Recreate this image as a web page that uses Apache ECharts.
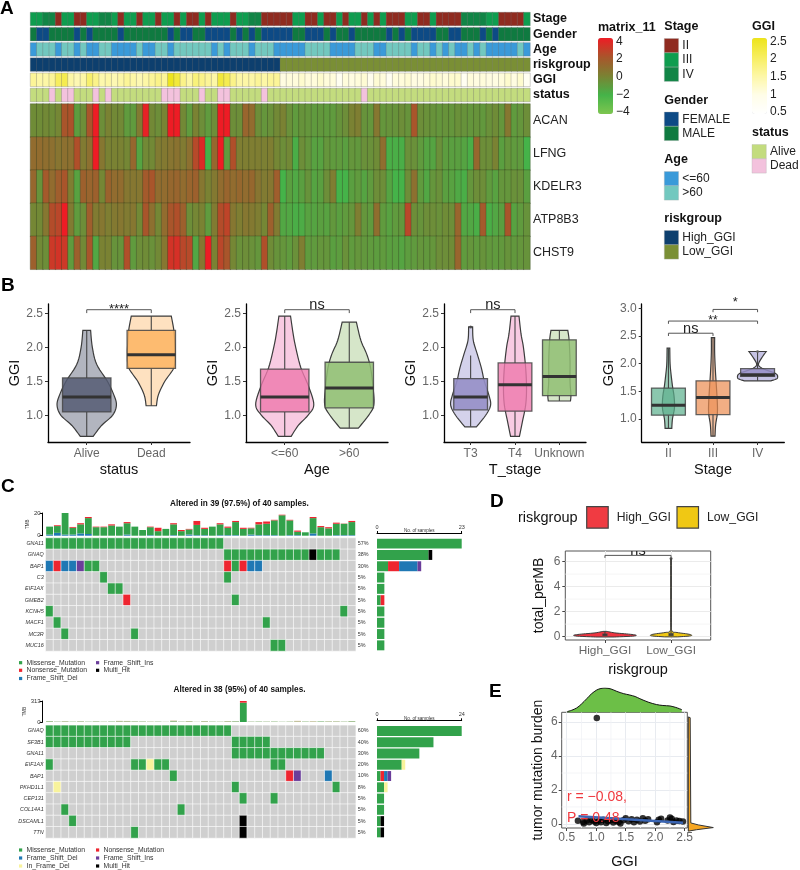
<!DOCTYPE html>
<html><head><meta charset="utf-8">
<style>html,body{margin:0;padding:0;background:#fff}#c{width:800px;height:870px}</style>
<script src="https://cdn.jsdelivr.net/npm/echarts@6/dist/echarts.min.js"></script>
</head><body><div id="c"></div>
<script>
const FF='"Liberation Sans",Arial,sans-serif';
/* ---------- Panel A data ---------- */
const stageIICols=[4,7,8,14,17,20,23,25,26,28,32,37,38,39,40,41,44,45,47,48,50,53,55,57,58,59,62,63,65,66,67,68,75,76,77,78];
const stageIVCols=[2,3,11,12,35,36,69,70,71,72];
const genderFemaleCols=[1,2,7,9,14,22,24,25,28,29,30,31,33,35,37,38,39,40,41,44,45,46,48,51,57,59,61,62,63,64,67,68,72,74];
const ageYoungCols=[0,4,7,9,10,13,14,15,16,18,19,22,29,31,35,39,40,41,42,43,48,49,50,51,55,56,61,64,66,68,69,71,73,74,75,76,77,79];
const deadCols=[3,5,6,10,12,21,22,23,27,30,31,37,53];
const highRiskCount=40;
const ggiValues=[1.6,1.5,1.5,1.6,2,2.1,1.5,1.4,1.5,1.9,1.7,1.45,1.5,1.4,1.5,1.6,1.5,1.4,1.5,1.6,1.7,1.6,2.47,2.25,1.7,1.5,1.8,1.7,1.6,1.5,2.25,2.1,1.7,1.5,1.5,1.5,1.6,1.5,1.6,1.6,
1.05,1.1,1.1,1.2,1.1,1.1,1.2,1.1,1.1,.8,1.1,1.05,1.1,1.15,.9,1.15,1.1,.8,1.1,1.1,1.15,1.05,1.05,1.1,1.2,1.15,1.1,1.2,1.2,.8,1.1,1.05,1.1,1.05,1.05,1.1,1.2,1.05,1.2,.8];
const annotNames=['Stage','Gender','Age','riskgroup','GGI','status'];
const geneNames=['ACAN','LFNG','KDELR3','ATP8B3','CHST9'];
const acan=[-.4,-.4,-.3,-.4,-.2,2,2.1,-1.1,-.5,2,4,-.5,0,-.3,-.3,-1,-1,.3,3.8,-.3,-.5,-.1,4,4,-.3,-1,0,-.5,-1,-.5,4,4,-.5,-.5,1.3,1,-.5,-.8,-.6,-.3,
0,-.6,-1,-.7,-.8,-1,-.9,-1,-1,-.7,-.5,0,.2,-.7,-.8,.5,-.8,-.7,-.7,-.5,-.7,2,-.5,-.6,-.7,-.8,-.7,-.8,-.6,-.7,-.8,-.7,-.9,-.6,-.4,-.8,.5,-1,-.8,-.5];
const lfng=[1,1,.9,.8,.6,.8,.8,2.2,.3,.8,4,.5,0,0,0,-.2,1.2,-1.4,-.3,-.3,.3,.4,.6,.7,.3,.8,2.4,3.5,-2,1.2,4,-1,2.2,.2,.2,.2,.2,.1,.2,-.2,
-.5,-.3,-1.8,-.5,-.8,-1.3,-1.3,-.8,-1,-1,-1.2,-.8,-.9,-.6,-.6,-.4,.9,-1.8,-1.8,-1.8,-.6,-.6,-1,-1.4,-1.4,-.6,-1.1,-1.2,-1.2,-1.4,-1.8,1.2,-.5,-.5,0,-1.2,-.8,-1,-1,-2];
const kdelr3=[1.2,-.7,1.8,1,1.6,2,.2,-1.3,1.5,1.3,1.5,-.2,1.4,1,1,.5,.5,.5,1.8,2,1,1,1.2,1.3,1,1.3,1.5,.5,0,.4,1,1.3,1,1.2,1,1.2,.6,.3,.5,1.6,
-2,-1.2,-1.6,-1.2,-.7,-1.4,-1.2,-.5,.2,-2,-2,-1.2,-1,-1.4,-1,-.5,-.5,-1.4,-2,-2,-.5,.8,-1,-1.5,-.8,-.6,-1.2,-1.3,-1.6,-1.8,-.8,-.5,-.5,-1,-1.3,-.8,-.8,-.6,-.6,-1.2];
const atp8b3=[-.2,-.3,.5,2.3,2.5,4,.3,-1,-.5,1.6,.3,.5,.2,.4,.5,.3,.5,-.3,2,.8,-.2,1,2,2.2,1.5,-.5,-.2,0,-1,.3,2.3,2.6,.5,.2,.5,.4,.2,-.2,1.5,.3,
-1.5,-1.5,-1.8,-1.7,-1.3,-1.4,-1.2,-1.3,-.9,-1.2,-1,-.8,.2,-.8,-1,.9,-1,-1.3,-1,-.9,2.5,-.5,-.7,-.5,-.5,-.6,-.4,-.5,1.3,-1.5,-1.5,-1.8,1.8,-1.8,-1.5,-1.2,2,-1.3,-1,-.7];
const chst9=[1.5,-.3,-.5,3,3.2,3,-1,1.5,-.3,2,-1.5,0,0,-.7,-.7,2.2,-1,-.5,-.4,-.6,-.3,.5,3.2,3.3,2.5,2.4,-1.5,.5,4,0,2.5,2,-.2,-.6,-.5,-.6,-.8,2.2,-.4,-.7,
-.8,-1,-.6,.2,-1,-1,-.8,-.8,-1.2,-1.1,-.6,-1,-.8,-.9,-1,-1.1,-1,-1.2,-1.2,-1.4,-1.1,-1,-.8,-.9,-.8,-.5,-.5,-.4,1.3,-1,-.8,-1,-.7,-.9,-1,-.9,-.7,-.9,-.8,-.7];
const matrixRows=[acan,lfng,kdelr3,atp8b3,chst9];
const matrixTicks=[-4,-2,0,2,4];
const ggiTicks=[.5,1,1.5,2,2.5];
/* ---------- Panel B data (violins are [GGI, half width in category units]) ---------- */
const statusCats=['Alive','Dead'];
const aliveViolin=[[.69,.1],[.85,.23],[1,.4],[1.15,.46],[1.3,.42],[1.5,.32],[1.75,.154],[2,.087],[2.25,.06]];
const deadViolin=[[1.14,.08],[1.3,.11],[1.5,.21],[1.7,.35],[1.9,.37],[2.05,.365],[2.25,.35],[2.46,.31]];
const statusBoxes=[[.69,1.05,1.27,1.55,2.25],[1.14,1.69,1.89,2.25,2.46]];
const ageCats=['<=60','>60'];
const youngViolin=[[.69,.1],[.85,.21],[1,.36],[1.15,.45],[1.4,.38],[1.7,.25],[2,.17],[2.2,.13],[2.46,.09]];
const oldViolin=[[.81,.14],[1,.3],[1.15,.38],[1.4,.37],[1.7,.33],[1.9,.27],[2.1,.18],[2.37,.11]];
const ageBoxes=[[.69,1.05,1.27,1.68,2.46],[.81,1.11,1.4,1.78,2.37]];
const tStageCats=['T3','T4','Unknown'];
const t3Violin=[[.83,.13],[1,.34],[1.15,.45],[1.3,.41],[1.5,.31],[1.7,.24],[1.9,.15],[2.1,.06],[2.3,.045]];
const t4Violin=[[.69,.1],[.9,.165],[1.15,.24],[1.4,.26],[1.7,.24],[2,.19],[2.2,.135],[2.46,.09]];
const unknownViolin=[[1.21,.25],[1.3,.26],[1.5,.24],[1.8,.24],[2.1,.22],[2.25,.19]];
const tStageBoxes=[[.83,1.08,1.27,1.54,1.88],[.69,1.06,1.45,1.77,2.46],[1.21,1.29,1.57,2.11,2.25]];
const stageCats=['II','III','IV'];
const stage2Violin=[[.83,.075],[1,.09],[1.2,.135],[1.4,.127],[1.6,.09],[1.8,.06],[2,.037],[2.28,.03]];
const stage3Violin=[[.69,.045],[.9,.06],[1.1,.097],[1.3,.097],[1.6,.075],[1.9,.052],[2.2,.037],[2.47,.037]];
const stage4Violin=[[1.69,.3],[1.72,.41],[1.75,.45],[1.82,.41],[1.9,.15],[1.95,.045],[2,.022],[2.1,.09],[2.22,.194]];
const stageBoxes=[[.83,1.07,1.25,1.56,2.28],[.69,1.08,1.39,1.69,2.47],[1.69,1.77,1.8,1.91,2.22]];
/* ---------- Panel C data ---------- */
const onco1Genes=['GNA11','GNAQ','BAP1','C3','EIF1AX','GMEB2','KCNH5','MACF1','MC3R','MUC16'];
const onco1Pct=['57%','38%','30%','5%','5%','5%','5%','5%','5%','5%'];
const onco1Rows=[
'MMMMMMMMMMMMMMMMMMMMMMM.................',
'.......................MMMMMMMMMMMHMMM..',
'DNDDIMM................NMNDD............',
'.......M...............M................',
'........MM..............................',
'..........N.............M...............',
'M.....................................M.',
'.M..........................M...........',
'..M........M............................',
'.............................MM.........'];
const onco1Side=[[23,0,0,0,0,0],[14,0,0,0,0,1],[3,3,5,1,0,0],[2,0,0,0,0,0],[2,0,0,0,0,0],[1,1,0,0,0,0],[2,0,0,0,0,0],[2,0,0,0,0,0],[2,0,0,0,0,0],[2,0,0,0,0,0]];
const tmb1Low=[1,2.5,1,1,2,1.5,0,0,0,0,1,0,0,.5,0,0,.5,0,1,.5,.5,0,.5,.5,.5,0,1,.5,.5,.5,0,.5,.5,0,2,0,0,.5,.5,.5];
const tmb1Green=[7,6,19,6,8,14,7.5,7.5,9,8,10,8,5,7,4,6,9.5,4,4.5,9,5.5,8,9.5,6.5,11.5,6,5.5,9.5,10,13,18,13,3,3,13.5,7.5,6.5,10,10,11.5];
const tmb1Top=[0,.7,0,.7,1,1,.5,.5,1,0,1,0,0,.5,3,0,1,1,.5,3.5,1,0,1,1,1,1,.5,2,2,.5,.5,.5,1,0,1,1,1,1,.2,1];
const onco2Genes=['GNAQ','SF3B1','GNA11','EIF1AX','BAP1','PKHD1L1','CEP131','COL14A1','DSCAML1','TTN'];
const onco2Pct=['60%','40%','30%','20%','10%','8%','5%','5%','5%','5%'];
const onco2Rows=[
'MMMMMMMMMMMMMMMMMMMMMMMM................',
'MMMMMMMMMMM.............MMMMM...........',
'........................MMMMMMMMMMMM....',
'M..........MMYMM.............MM.........',
'................M..............NI...D...',
'.Y......................M............M..',
'.........................M...M..........',
'..M..............M......................',
'...M.....................H..............',
'...........M.............H..............'];
const onco2Side=[[24,0,0,0,0,0],[16,0,0,0,0,0],[12,0,0,0,0,0],[7,0,0,0,1,0],[1,1,1,1,0,0],[2,0,0,0,1,0],[2,0,0,0,0,0],[2,0,0,0,0,0],[1,0,0,0,0,1],[1,0,0,0,0,1]];
const tmb2Green=[8,3,5,3,5,3,5,2,4,7,7,5,4,2,3,1,9,3,6,1,6,3,2,6,7,288,3,4,3,4,2,3,5,4,3,6,4,4,3,8];
const tmb2Tan=[6,3,7,2,6,2,5,3,3,10,9,5,4,4,3,2,12,3,8,2,8,3,3,8,5,0,3,3,3,3,2,3,12,3,8,3,6,6,3,6];
const tmb2Red=[0,0,0,0,0,0,0,0,0,0,0,0,0,0,0,0,0,0,0,0,0,0,0,0,0,25,0,0,0,0,0,0,0,0,0,0,0,0,0,0];
/* ---------- Panel D data ---------- */
const riskCats=['High_GGI','Low_GGI'];
const highViolin=[[-.03,.14],[.04,.42],[.12,.47],[.2,.36],[.3,.15],[.42,.03]];
const lowViolin=[[-.02,.1],[.05,.28],[.13,.31],[.22,.24],[.33,.09],[.48,.012],[1.5,.006],[6.25,.006]];
const riskBoxes=[[.05,.1,.14,.2,.42],[.05,.1,.15,.24,6.25]];
/* ---------- Panel E data ---------- */
const tmbPoints=[[1.01,6.25],[.69,.18],[.78,.12],[.79,.03],[.84,.2],[.88,.1],[.93,.22],[.97,.14],[1.0,.06],[1.05,.2],[1.08,.1],[1.12,.24],[1.17,.05],[1.2,.16],[1.25,.22],[1.29,.08],[1.33,.18],[1.38,.12],[1.41,.02],[1.46,.22],[1.5,.34],[1.55,.16],[1.6,.28],[1.64,.1],[1.69,.25],[1.74,.14],[1.79,.34],[1.83,.18],[1.88,.27],[2.03,.1],[2.06,.25],[2.1,.3],[2.21,.2],[2.25,.38],[2.28,.3],[2.31,.12],[2.36,.2],[2.41,.17],[2.47,.15]];
const fitX=[.7,2.47];
const fitY=[.45,.07];
const topDensX=[.51,.58,.67,.75,.84,.92,1.01,1.08,1.15,1.25,1.35,1.46,1.57,1.66,1.74,1.88,2.02,2.13,2.25,2.35,2.45];
const topDensY=[.03,.08,.18,.34,.56,.76,.92,.98,1,.96,.86,.77,.71,.65,.56,.42,.32,.28,.26,.2,.11];
const rightDens=[[0,-.08],[.33,.0],[1,.12],[.4,.27],[.1,.38],[.075,6.28],[0,6.32]];

/* ---------- helpers ---------- */
const grid=[],xAxis=[],yAxis=[],series=[],graphic=[],visualMap=[];
function addGrid(r,x,y){grid.push({left:r[0],top:r[1],width:r[2],height:r[3],containLabel:false,show:!!r[4],borderColor:'#555',borderWidth:1,backgroundColor:'transparent'});
 const g=grid.length-1;xAxis.push(Object.assign({gridIndex:g},x));yAxis.push(Object.assign({gridIndex:g},y));return {g,x:xAxis.length-1,y:yAxis.length-1};}
function on(a,s){return Object.assign({xAxisIndex:a.x,yAxisIndex:a.y,animation:false,silent:true},s);}
function txt(x,y,t,o){graphic.push({type:'text',x,y,z:50,silent:true,rotation:(o&&o.rot)||0,style:Object.assign({text:t,fontFamily:FF,fontSize:12,fill:'#111',align:'left',verticalAlign:'middle'},o||{})});}
function box(x,y,w,h,c){graphic.push({type:'rect',x:0,y:0,z:40,silent:true,shape:{x,y,width:w,height:h},style:{fill:c,stroke:'rgba(180,180,180,.7)',lineWidth:.5}});}
const catHidden=(n)=>({type:'category',data:Array.from({length:n},(_,i)=>i),show:false});
const baseOff={axisLine:{show:false},axisTick:{show:false},splitLine:{show:false}};

/* ---------- Panel A ---------- */
const AX=30.5,AW=499.5;
const annColors={II:'#8f2b20',III:'#0f9d4f',IV:'#118546',F:'#0d4a85',M:'#0f7a40',Y:'#3a9ad9',O:'#72c8bf',H:'#0d3f6e',L:'#7a8f35',A:'#c3dc7e',D:'#f3c2dd'};
const colIdx=Array.from({length:80},(_,i)=>i);
const annotCols=[
 colIdx.map(i=>stageIICols.includes(i)?annColors.II:stageIVCols.includes(i)?annColors.IV:annColors.III),
 colIdx.map(i=>genderFemaleCols.includes(i)?annColors.F:annColors.M),
 colIdx.map(i=>ageYoungCols.includes(i)?annColors.Y:annColors.O),
 colIdx.map(i=>i<highRiskCount?annColors.H:annColors.L),
 null,
 colIdx.map(i=>deadCols.includes(i)?annColors.D:annColors.A)];
const annBorder='rgba(110,110,110,.6)';
annotNames.forEach((nm,r)=>{
 const a=addGrid([AX,12.5+15.2*r,AW,13],catHidden(80),{type:'category',data:[nm],position:'right',...baseOff,axisLabel:{fontFamily:FF,fontWeight:'bold',fontSize:12.5,color:'#111',margin:3}});
 const cols=annotCols[r];
 const s=on(a,{type:'heatmap',itemStyle:{borderColor:annBorder,borderWidth:.5},
   data:colIdx.map(i=>cols?{value:[i,0,1],itemStyle:{color:cols[i],borderColor:annBorder,borderWidth:.5}}:[i,0,ggiValues[i]])});
 series.push(s);
 if(!cols){visualMap.push({type:'continuous',seriesIndex:series.length-1,min:.5,max:2.5,left:752,top:38,itemWidth:15,itemHeight:76,padding:0,calculable:false,hoverLink:false,text:null,showLabel:false,inRange:{color:['#ffffff','#fffde8','#fdf7a6','#f7ee5e','#ede41a']}});}
});
const heatAxes=addGrid([AX,104,AW,165.3],catHidden(80),{type:'category',inverse:true,data:geneNames,position:'right',...baseOff,axisLabel:{fontFamily:FF,fontSize:12.5,color:'#222',margin:3}});
const heatData=[];matrixRows.forEach((row,r)=>row.forEach((v,c)=>heatData.push([c,r,v])));
series.push(on(heatAxes,{type:'heatmap',data:heatData,itemStyle:{borderColor:'rgba(55,65,35,.7)',borderWidth:.5}}));
visualMap.push({type:'continuous',seriesIndex:series.length-1,min:-4,max:4,left:598,top:38,itemWidth:15,itemHeight:76,padding:0,calculable:false,hoverLink:false,text:null,showLabel:false,inRange:{color:['#7dc64f','#45b349','#7a8233','#a9552b','#ee1c25']}});
function colorbarLabels(left,ticks,fmt){
 addGrid([left,41.3,15,70.7],{type:'value',show:false,min:0,max:1},{type:'value',position:'right',min:ticks[0],max:ticks[ticks.length-1],interval:ticks[1]-ticks[0],...baseOff,axisLabel:{fontFamily:FF,fontSize:12,color:'#222',margin:3,showMinLabel:true,showMaxLabel:true,formatter:fmt}});
}
colorbarLabels(598,matrixTicks,v=>String(v).replace('-','\u2212'));
colorbarLabels(752,ggiTicks,v=>String(v));
txt(598,28,'matrix_11',{fontWeight:'bold',fontSize:12.5});
txt(752,27,'GGI',{fontWeight:'bold',fontSize:12.5});
[['Stage',664.3,27,[['II',annColors.II],['III',annColors.III],['IV',annColors.IV]]],
 ['Gender',664.3,100.5,[['FEMALE',annColors.F],['MALE',annColors.M]]],
 ['Age',664.3,160,[['<=60',annColors.Y],['>60',annColors.O]]],
 ['riskgroup',664.3,219,[['High_GGI',annColors.H],['Low_GGI',annColors.L]]],
 ['status',752,133,[['Alive',annColors.A],['Dead',annColors.D]]]].forEach(([t,x,y,items])=>{
  txt(x,y,t,{fontWeight:'bold',fontSize:12.5});
  items.forEach(([lab,c],i)=>{const yy=y+11.5+14.3*i;box(x,yy,14.3,14.3,c);txt(x+18,yy+7.2,lab,{fontSize:12,fill:'#222'});});
 });
[['A',0,9],['B',1,286],['C',1,487],['D',490,502],['E',489,692]].forEach(([t,x,y])=>txt(x,y,t,{fontWeight:'bold',fontSize:19,fill:'#000'}));

/* ---------- violin helpers ---------- */
function smoothPts(p){const o=[];for(let i=0;i<p.length-1;i++){const a=p[Math.max(i-1,0)],b=p[i],c=p[i+1],d=p[Math.min(i+2,p.length-1)];
 for(let k=0;k<6;k++){const t=k/6,t2=t*t,t3=t2*t;o.push([0,1].map(j=>.5*(2*b[j]+(c[j]-a[j])*t+(2*a[j]-5*b[j]+4*c[j]-d[j])*t2+(3*b[j]-a[j]-3*c[j]+d[j])*t3)));}}
 o.push(p[p.length-1]);return o;}
function violinSeries(a,shapes,colors,lw){
 series.push(on(a,{type:'custom',data:shapes.map((_,i)=>[i,0]),z:2,renderItem:(pr,api)=>{
  const i=api.value(0),sh=shapes[i];
  const R=smoothPts(sh.map(([y,w])=>api.coord([i+w,y])));
  const L=smoothPts(sh.map(([y,w])=>api.coord([i-w,y]))).reverse();
  return {type:'polygon',shape:{points:R.concat(L)},style:{fill:colors[i],stroke:'#3c3c3c',lineWidth:lw||1.2}};
 }}));
}
function boxSeries(a,stats,colors,hw,medW){
 series.push(on(a,{type:'custom',data:stats.map((s,i)=>[i,s[0],s[1],s[2],s[3],s[4]]),z:3,renderItem:(pr,api)=>{
  const i=api.value(0),[lo,q1,m,q3,hi]=[1,2,3,4,5].map(k=>api.value(k));
  const c=(x,y)=>api.coord([x,y]);
  const P1=c(i-hw,q3),P2=c(i+hw,q1),lm=c(i-hw,m),rm=c(i+hw,m);
  const st={stroke:'#444',lineWidth:1.1};
  return {type:'group',children:[
   {type:'line',shape:{x1:c(i,lo)[0],y1:c(i,lo)[1],x2:c(i,q1)[0],y2:c(i,q1)[1]},style:st},
   {type:'line',shape:{x1:c(i,q3)[0],y1:c(i,q3)[1],x2:c(i,hi)[0],y2:c(i,hi)[1]},style:st},
   {type:'rect',shape:{x:P1[0],y:P1[1],width:P2[0]-P1[0],height:P2[1]-P1[1]},style:{fill:colors[i],stroke:'rgba(70,70,70,.85)',lineWidth:1.3}},
   {type:'line',shape:{x1:lm[0],y1:lm[1],x2:rm[0],y2:rm[1]},style:{stroke:'#333',lineWidth:medW||3}}
  ]};
 }}));
}
function bracketSeries(a,items,clip){
 // items: [from, to, yTop, tipDown, label, labelFontSize, labelGapPx]
 series.push(on(a,{type:'custom',clip:!!clip,data:items.map((it,i)=>[it[0],it[2]]),z:5,renderItem:(pr,api)=>{
  const it=items[pr.dataIndex];
  const p1=api.coord([it[0],it[2]-it[3]]),p2=api.coord([it[0],it[2]]),p3=api.coord([it[1],it[2]]),p4=api.coord([it[1],it[2]-it[3]]);
  return {type:'group',children:[
   {type:'polyline',shape:{points:[p1,p2,p3,p4]},style:{stroke:'#555',lineWidth:1,fill:null}},
   {type:'text',x:(p2[0]+p3[0])/2,y:p2[1]+(it[6]||0),style:{text:it[4],align:'center',verticalAlign:'bottom',fontSize:it[5],fontFamily:FF,fill:'#222'}}
  ]};
 }}));
}
function violinAxes(r,cats,yMin,yMax,yTicks,xName,yName){
 const idx=cats.map((_,i)=>i);
 return addGrid(r,{type:'value',min:-.6,max:cats.length-.4,name:xName,nameLocation:'middle',nameGap:20,nameTextStyle:{fontFamily:FF,fontSize:14.5,color:'#111'},
   axisLine:{onZero:false,lineStyle:{color:'#000',width:1.3}},axisTick:{customValues:idx,length:3,lineStyle:{color:'#333'}},splitLine:{show:false},
   axisLabel:{customValues:idx,formatter:v=>cats[v],fontFamily:FF,fontSize:12,color:'#666',margin:6}},
  {type:'value',min:yMin,max:yMax,name:yName,nameLocation:'middle',nameGap:24,nameTextStyle:{fontFamily:FF,fontSize:14.5,color:'#111'},
   axisLine:{onZero:false,lineStyle:{color:'#000',width:1.3}},axisTick:{customValues:yTicks,length:3,lineStyle:{color:'#333'}},splitLine:{show:false},
   axisLabel:{customValues:yTicks,formatter:v=>v.toFixed(1),fontFamily:FF,fontSize:12,color:'#666',margin:5}});
}
/* ---------- Panel B ---------- */
const b1=violinAxes([48,304,142,138],statusCats,.607,2.637,[1,1.5,2,2.5],'status','GGI');
violinSeries(b1,[aliveViolin,deadViolin],['rgba(85,90,112,.45)','rgba(253,180,98,.4)']);
boxSeries(b1,statusBoxes,['rgba(85,92,115,.85)','rgba(253,180,98,.85)'],.375);
bracketSeries(b1,[[0,1,2.553,.05,'****',13,6]]);
const b2=violinAxes([246,304,142,138],ageCats,.607,2.637,[1,1.5,2,2.5],'Age','GGI');
violinSeries(b2,[youngViolin,oldViolin],['rgba(240,140,190,.45)','rgba(165,200,135,.45)']);
boxSeries(b2,ageBoxes,['rgba(237,120,172,.8)','rgba(145,190,115,.85)'],.375);
bracketSeries(b2,[[0,1,2.553,.05,'ns',14.5,3]]);
const b3=violinAxes([444,304,142,138],tStageCats,.607,2.637,[1,1.5,2,2.5],'T_stage','GGI');
violinSeries(b3,[t3Violin,t4Violin,unknownViolin],['rgba(160,155,210,.45)','rgba(240,140,190,.45)','rgba(165,200,135,.45)']);
boxSeries(b3,tStageBoxes,['rgba(150,143,200,.9)','rgba(237,120,172,.8)','rgba(145,190,115,.85)'],.38);
bracketSeries(b3,[[0,1,2.553,.05,'ns',14.5,3]]);
series.push(on(b3,{type:'scatter',data:[[0,2.3]],symbolSize:3,itemStyle:{color:'#444'},z:4}));
const b4=violinAxes([641.7,304,142.6,138],stageCats,.585,3.078,[1,1.5,2,2.5,3],'Stage','GGI');
violinSeries(b4,[stage2Violin,stage3Violin,stage4Violin],['rgba(80,165,130,.55)','rgba(235,140,80,.55)','rgba(160,155,210,.6)']);
boxSeries(b4,stageBoxes,['rgba(90,175,140,.7)','rgba(235,140,80,.7)','rgba(150,143,200,.85)'],.38);
bracketSeries(b4,[[0,1,2.55,.05,'ns',14.5,3],[0,2,2.77,.05,'**',12,6],[1,2,2.98,.05,'*',13,-1]]);
series.push(on(b4,{type:'scatter',data:[[2,2.22]],symbolSize:3,itemStyle:{color:'#666'},z:4}));

/* ---------- Panel C ---------- */
const ONCO={M:'#32a24b',N:'#ee2530',D:'#1f78b4',I:'#6a3d9a',Y:'#f8f39c',H:'#000000','.':'#cfcfcf'};
const OX=45.7,OW=310;
function oncoPlot(topY,mtxY,mtxH,genes,pct,rows,side,sideMax,tmbMax,tmbSeries,tmbTop,tmbBottom){
 const t=addGrid([OX,tmbTop,OW,tmbBottom-tmbTop],catHidden(40),{type:'value',min:0,max:tmbMax,interval:tmbMax,offset:3,
   name:'TMB',nameLocation:'middle',nameGap:9,nameTextStyle:{fontFamily:FF,fontSize:4.5,color:'#333'},
   axisLine:{show:true,onZero:false,lineStyle:{color:'#000',width:1}},axisTick:{show:true,length:3,lineStyle:{color:'#000',width:1}},splitLine:{show:false},
   axisLabel:{fontFamily:FF,fontSize:6,color:'#333',margin:2}});
 tmbSeries.forEach(([d,c])=>series.push(on(t,{type:'bar',stack:'tmb'+topY,data:d,barWidth:6.8,itemStyle:{color:c}})));
 const m=addGrid([OX,mtxY,OW,mtxH],catHidden(40),{type:'category',inverse:true,data:genes,...baseOff,axisLabel:{fontFamily:FF,fontStyle:'italic',fontSize:5.4,color:'#333',margin:2}});
 yAxis.push({gridIndex:m.g,type:'category',inverse:true,position:'right',data:pct,...baseOff,axisLabel:{fontFamily:FF,fontSize:5.4,color:'#333',margin:2}});
 const hd=[];rows.forEach((s,r)=>[...s].forEach((ch,c)=>hd.push({value:[c,r,1],itemStyle:{color:ONCO[ch],borderColor:'#fff',borderWidth:.6}})));
 series.push(on(m,{type:'heatmap',data:hd}));
 const bar=addGrid([377,mtxY,84.7,mtxH],{type:'value',position:'top',min:0,max:sideMax,interval:sideMax,offset:5,
   axisLine:{show:true,onZero:false,lineStyle:{color:'#000',width:1}},axisTick:{show:true,length:2,inside:false,lineStyle:{color:'#000',width:1}},splitLine:{show:false},
   axisLabel:{fontFamily:FF,fontSize:5.5,color:'#333',margin:3}},
  {type:'category',inverse:true,data:genes,show:false});
 ['M','N','D','I','Y','H'].forEach((k,j)=>series.push(on(bar,{type:'bar',stack:'side'+topY,barWidth:'88%',data:side.map(s=>s[j]),itemStyle:{color:ONCO[k]}})));
 txt(419.3,mtxY-7,'No. of samples',{fontSize:4.6,fill:'#333',align:'center'});
}
oncoPlot(1,538,113,onco1Genes,onco1Pct,onco1Rows,onco1Side,23,20,[[tmb1Low,'#1f78b4'],[tmb1Green,'#32a24b'],[tmb1Top,'#ee2530']],513,535.7);
oncoPlot(2,725.3,112.7,onco2Genes,onco2Pct,onco2Rows,onco2Side,24,313,[[tmb2Green,'#32a24b'],[tmb2Tan,'#c9b48c'],[tmb2Red,'#ee2530']],701,722);
txt(239.5,503.7,'Altered in 39 (97.5%) of 40 samples.',{fontWeight:'bold',fontSize:8.2,align:'center',fill:'#111'});
txt(239.5,690,'Altered in 38 (95%) of 40 samples.',{fontWeight:'bold',fontSize:8.2,align:'center',fill:'#111'});
function oncoLegend(items){items.forEach(([x,y,k,lab])=>{graphic.push({type:'rect',z:40,silent:true,shape:{x,y:y-1.6,width:3.2,height:3.2},style:{fill:ONCO[k]}});txt(x+7.5,y,lab,{fontSize:6.8,fill:'#333'});});}
oncoLegend([[19,662.7,'M','Missense_Mutation'],[96,662.7,'I','Frame_Shift_Ins'],[19,670.3,'N','Nonsense_Mutation'],[96,670.3,'H','Multi_Hit'],[19,678.5,'D','Frame_Shift_Del'],
 [19,850,'M','Missense_Mutation'],[96,850,'N','Nonsense_Mutation'],[19,858,'D','Frame_Shift_Del'],[96,858,'I','Frame_Shift_Ins'],[19,866,'Y','In_Frame_Del'],[96,866,'H','Multi_Hit']]);

/* ---------- minor grid helper ---------- */
function minorLines(a,xs,ys,color){
 const items=xs.map(v=>[1,v]).concat(ys.map(v=>[0,v]));
 series.push(on(a,{type:'custom',z:1,data:items.map(it=>[it[1],it[1]]),renderItem:(pr,api)=>{
  const it=items[pr.dataIndex],cs=pr.coordSys;
  const p=it[0]?api.coord([it[1],0]):api.coord([0,it[1]]);
  const sh=it[0]?{x1:p[0],y1:cs.y,x2:p[0],y2:cs.y+cs.height}:{x1:cs.x,y1:p[1],x2:cs.x+cs.width,y2:p[1]};
  return {type:'line',shape:sh,style:{stroke:color,lineWidth:.8}};
 }}));
}
/* ---------- Panel D ---------- */
txt(518,517.7,'riskgroup',{fontSize:14.5,fill:'#111'});
[[586.7,'#f03b42','High_GGI',616.7],[677,'#f0c814','Low_GGI',707]].forEach(([x,c,l,tx])=>{
 graphic.push({type:'rect',z:40,silent:true,shape:{x,y:506.7,width:21.5,height:21.5},style:{fill:c,stroke:'#444',lineWidth:1.2}});
 txt(tx,517.5,l,{fontSize:12.2,fill:'#222'});});
const dIdx=riskCats.map((_,i)=>i);
const dAxes=addGrid([565.3,551,145.4,89,true],{type:'value',min:-.6,max:1.6,name:'riskgroup',nameLocation:'middle',nameGap:22,nameTextStyle:{fontFamily:FF,fontSize:14.5,color:'#111'},
  axisLine:{show:false,onZero:false},axisTick:{show:true,customValues:dIdx,length:3,lineStyle:{color:'#444'}},splitLine:{show:true,lineStyle:{color:'#ebebeb'}},
  axisLabel:{customValues:dIdx,formatter:v=>riskCats[v],fontFamily:FF,fontSize:11.8,color:'#666',margin:5}},
 {type:'value',min:-.27,max:6.85,name:'total_perMB',nameLocation:'middle',nameGap:19,nameTextStyle:{fontFamily:FF,fontSize:14,color:'#111'},
  axisLine:{show:false,onZero:false},axisTick:{show:true,customValues:[0,2,4,6],length:3,lineStyle:{color:'#444'}},splitLine:{show:true,lineStyle:{color:'#ebebeb'}},
  axisLabel:{customValues:[0,2,4,6],fontFamily:FF,fontSize:12,color:'#666',margin:5}});
minorLines(dAxes,[],[1,3,5],'#f2f2f2');
violinSeries(dAxes,[highViolin,lowViolin],['#ee3340','#f0c814'],1);
boxSeries(dAxes,riskBoxes,['#c03030','#c8a820'],.03,1);
bracketSeries(dAxes,[[0,1,6.5,.2,'ns',14.5,3]],true);
series.push(on(dAxes,{type:'scatter',data:[[1,6.25]],symbolSize:3,itemStyle:{color:'#444'},z:4}));

/* ---------- Panel E ---------- */
const eRect=[561.7,712.3,125.6,121.7,true];
const eAxes=addGrid(eRect,{type:'value',min:.415,max:2.544,name:'GGI',nameLocation:'middle',nameGap:26,nameTextStyle:{fontFamily:FF,fontSize:14.5,color:'#111'},
  axisLine:{show:false,onZero:false},axisTick:{show:true,customValues:[.5,1,1.5,2,2.5],length:3,lineStyle:{color:'#444'}},splitLine:{show:true,lineStyle:{color:'#e8ebf0'}},
  axisLabel:{customValues:[.5,1,1.5,2,2.5],formatter:v=>v.toFixed(1),fontFamily:FF,fontSize:12,color:'#666',margin:4}},
 {type:'value',min:-.24,max:6.58,name:'tumor mutation burden',nameLocation:'middle',nameGap:17,nameTextStyle:{fontFamily:FF,fontSize:14,color:'#111'},
  axisLine:{show:false,onZero:false},axisTick:{show:true,customValues:[0,2,4,6],length:3,lineStyle:{color:'#444'}},splitLine:{show:true,lineStyle:{color:'#e8ebf0'}},
  axisLabel:{customValues:[0,2,4,6],fontFamily:FF,fontSize:12,color:'#666',margin:4}});
minorLines(eAxes,[.75,1.25,1.75,2.25],[1,3,5],'#f1f3f6');
series.push(on(eAxes,{type:'scatter',data:tmbPoints,symbolSize:6.5,itemStyle:{color:'#000'},z:3}));
series.push(on(eAxes,{type:'line',data:fitX.map((x,i)=>[x,fitY[i]]),showSymbol:false,lineStyle:{color:'#3b66b5',width:2.5},z:4}));
txt(567,797,'r = \u22120.08,',{fontSize:14,fill:'#f0393f'});
txt(567,818,'P = 0.48',{fontSize:14,fill:'#f0393f'});
const eTop=addGrid([561.7,688,125.6,24.3],{type:'value',min:.415,max:2.544,show:false},{type:'value',min:0,max:1,show:false});
series.push(on(eTop,{type:'line',smooth:.3,data:topDensX.map((x,i)=>[x,topDensY[i]]),showSymbol:false,lineStyle:{color:'#111',width:1},areaStyle:{color:'#6cbf47',opacity:1},itemStyle:{color:'#111'}}));
const eRight=addGrid([688.3,712.3,25,121.7],{type:'value',min:0,max:1,show:false},{type:'value',min:-.24,max:6.58,show:false});
series.push(on(eRight,{type:'custom',data:[[0,0]],renderItem:(pr,api)=>({type:'polygon',shape:{points:rightDens.map(p=>api.coord(p))},style:{fill:'#f5a623',stroke:'#333',lineWidth:1}})}));

const chart=echarts.init(document.getElementById('c'),null,{renderer:'canvas',width:800,height:870});
chart.setOption({animation:false,backgroundColor:'#fff',textStyle:{fontFamily:FF},grid,xAxis,yAxis,series,visualMap,graphic:{elements:graphic}});
</script></body></html>
